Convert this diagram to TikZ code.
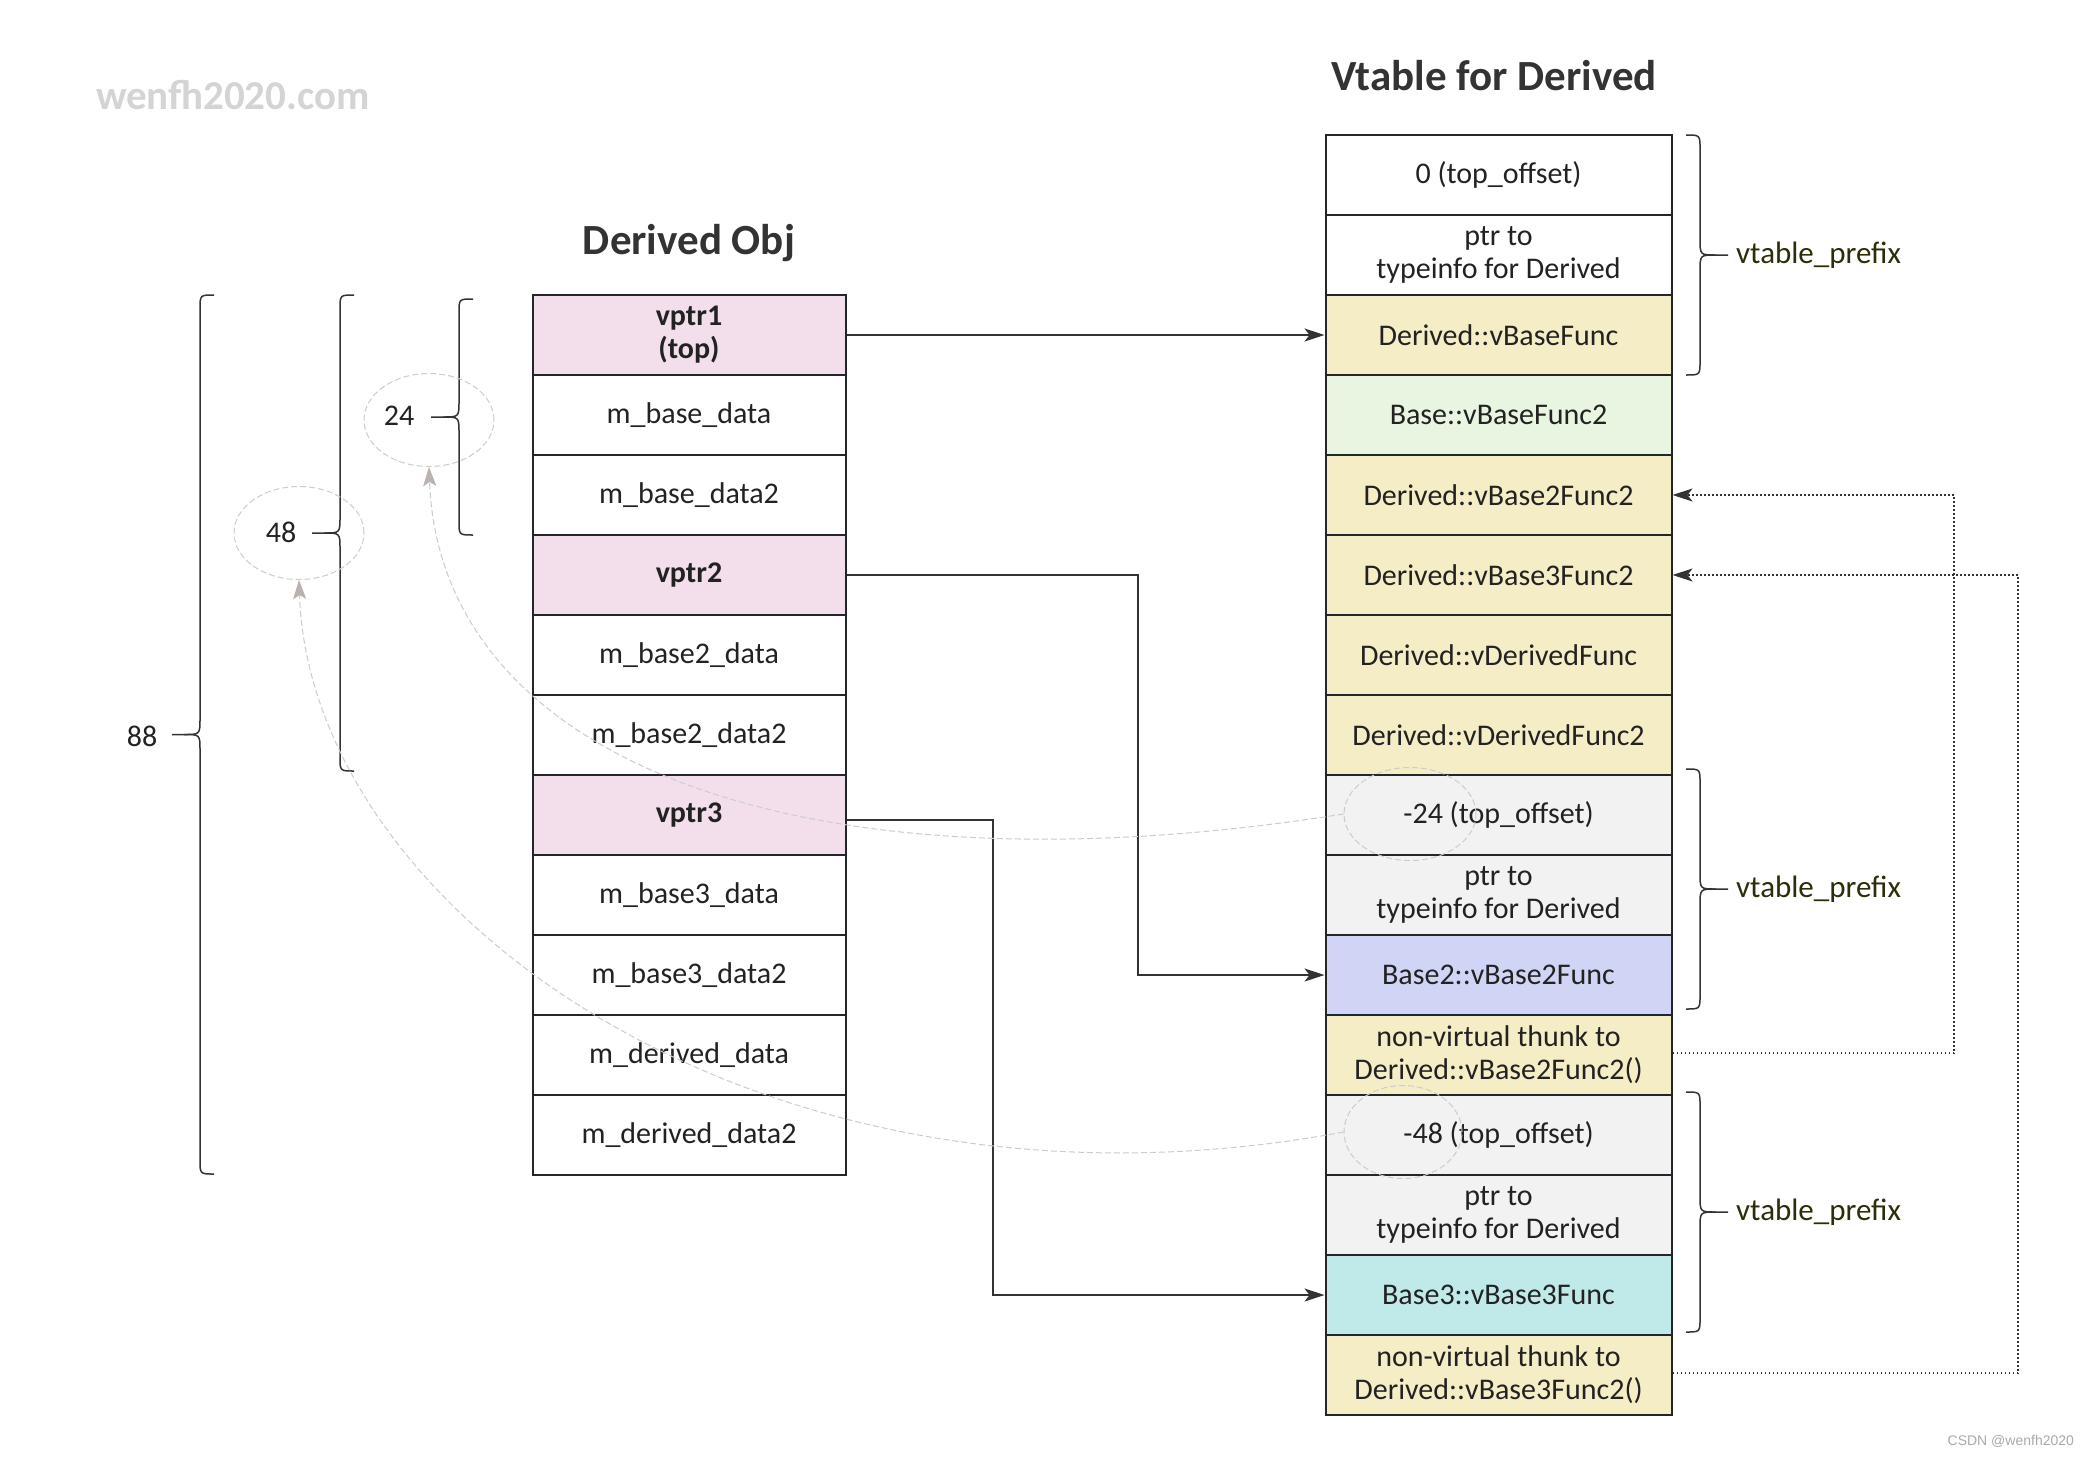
\documentclass[tikz,border=0pt]{standalone}
\usepackage{fontspec}
\setmainfont{Carlito}
\newfontfamily\markfont{Liberation Sans}
\usepackage{tikz}
\usetikzlibrary{arrows.meta,shapes.geometric}

\definecolor{cellline}{RGB}{35,38,43}
\definecolor{textdark}{RGB}{34,34,34}
\definecolor{titledark}{RGB}{51,51,51}
\definecolor{ptrpink}{RGB}{243,223,236}
\definecolor{funcyellow}{RGB}{245,237,198}
\definecolor{funcgreen}{RGB}{232,245,224}
\definecolor{prefixgray}{RGB}{242,242,242}
\definecolor{funcblue}{RGB}{208,213,245}
\definecolor{funccyan}{RGB}{192,233,234}
\definecolor{linedark}{RGB}{51,51,51}
\definecolor{ringgray}{RGB}{204,204,204}
\definecolor{tipgray}{RGB}{185,178,174}
\definecolor{prefixtext}{RGB}{45,45,10}
\definecolor{wmgray}{RGB}{212,212,212}
\definecolor{csdngray}{RGB}{170,170,170}

\tikzset{
  objcell/.style={draw=cellline, line width=1pt, minimum width=156.5pt, minimum height=40pt,
    inner sep=0pt, align=center, text=textdark, font=\fontsize{15}{16.5}\selectfont},
  vtcell/.style={objcell, minimum width=173pt},
  ptr/.style={draw=linedark, line width=0.75pt, -{Stealth[length=10pt,width=6.5pt,inset=2.5pt]}},
  thunkptr/.style={ptr, dash pattern=on 0.8pt off 1.2pt},
  offring/.style={ellipse, draw=ringgray, line width=0.5pt, dash pattern=on 3pt off 1.5pt, inner sep=0pt},
  offlink/.style={draw=ringgray, line width=0.5pt, dash pattern=on 3pt off 1.5pt,
    -{Stealth[length=9.5pt,width=6.5pt,inset=2pt,color=tipgray]}},
  sizelabel/.style={text=textdark, font=\fontsize{15}{16}\selectfont},
  prefixlabel/.style={anchor=west, text=prefixtext, font=\fontsize{15.5}{17}\selectfont},
  titlelabel/.style={anchor=base, text=titledark, font=\fontsize{21.5}{24}\selectfont\bfseries},
  braceline/.style={draw=linedark, line width=0.75pt},
}

% x, top, bottom, direction of the tip (-1 left, 1 right)
\newcommand{\sizebrace}[4]{%
  \pgfmathsetmacro{\bracemid}{(#2+#3)/2}%
  \draw[braceline] ({#1-14*(#4)},#2) .. controls (#1,#2) .. (#1,{#2+14})
    -- (#1,{\bracemid-16}) .. controls (#1,\bracemid) .. ({#1+16*(#4)},\bracemid)
    -- ({#1+28*(#4)},\bracemid);
  \draw[braceline] ({#1+16*(#4)},\bracemid) .. controls (#1,\bracemid) .. (#1,{\bracemid+16})
    -- (#1,{#3-14}) .. controls (#1,#3) .. ({#1-14*(#4)},#3);
}

\begin{document}
\begin{tikzpicture}[x=0.5pt,y=-0.5pt]
\useasboundingbox (0,0) rectangle (2096,1456);
\fill[white] (0,0) rectangle (2096,1456);

\node[anchor=base west, text=wmgray, font=\fontsize{20.5}{22}\selectfont\bfseries](site) at (89,109) {wenfh2020.com};
\node[titlelabel](objtitle) at (689,254) {Derived Obj};
\node[titlelabel](vttitle) at (1494,90) {Vtable for Derived};

% derived object
\node[objcell, fill=ptrpink, font=\fontsize{15}{16.5}\selectfont\bfseries](vptr1) at (689,335) {vptr1\\(top)};
\node[objcell](bdata) at (689,415) {m\_base\_data};
\node[objcell](bdata2) at (689,495) {m\_base\_data2};
\node[objcell, fill=ptrpink, font=\fontsize{15}{16.5}\selectfont\bfseries](vptr2) at (689,575) {vptr2};
\node[objcell](b2data) at (689,655) {m\_base2\_data};
\node[objcell](b2data2) at (689,735) {m\_base2\_data2};
\node[objcell, fill=ptrpink, font=\fontsize{15}{16.5}\selectfont\bfseries](vptr3) at (689,815) {vptr3};
\node[objcell](b3data) at (689,895) {m\_base3\_data};
\node[objcell](b3data2) at (689,975) {m\_base3\_data2};
\node[objcell](ddata) at (689,1055) {m\_derived\_data};
\node[objcell](ddata2) at (689,1135) {m\_derived\_data2};

% vtable
\node[vtcell](top0) at (1498.5,175) {0 (top\_offset)};
\node[vtcell](rtti0) at (1498.5,255) {ptr to\\typeinfo for Derived};
\node[vtcell, fill=funcyellow](dvbf) at (1498.5,335) {Derived::vBaseFunc};
\node[vtcell, fill=funcgreen](bvbf2) at (1498.5,415) {Base::vBaseFunc2};
\node[vtcell, fill=funcyellow](dvb2f2) at (1498.5,495) {Derived::vBase2Func2};
\node[vtcell, fill=funcyellow](dvb3f2) at (1498.5,575) {Derived::vBase3Func2};
\node[vtcell, fill=funcyellow](dvdf) at (1498.5,655) {Derived::vDerivedFunc};
\node[vtcell, fill=funcyellow](dvdf2) at (1498.5,735) {Derived::vDerivedFunc2};
\node[vtcell, fill=prefixgray](top24) at (1498.5,815) {-24 (top\_offset)};
\node[vtcell, fill=prefixgray](rtti24) at (1498.5,895) {ptr to\\typeinfo for Derived};
\node[vtcell, fill=funcblue](b2vb2f) at (1498.5,975) {Base2::vBase2Func};
\node[vtcell, fill=funcyellow](thunk2) at (1498.5,1055) {non-virtual thunk to\\Derived::vBase2Func2()};
\node[vtcell, fill=prefixgray](top48) at (1498.5,1135) {-48 (top\_offset)};
\node[vtcell, fill=prefixgray](rtti48) at (1498.5,1215) {ptr to\\typeinfo for Derived};
\node[vtcell, fill=funccyan](b3vb3f) at (1498.5,1295) {Base3::vBase3Func};
\node[vtcell, fill=funcyellow](thunk3) at (1498.5,1375) {non-virtual thunk to\\Derived::vBase3Func2()};

% sizes
\sizebrace{200}{295}{1174}{-1}
\sizebrace{340}{295}{771}{-1}
\sizebrace{459}{299}{535}{-1}
\node[sizelabel](s88) at (142,736) {88};
\node[sizelabel](s48) at (281,532) {48};
\node[sizelabel](s24) at (399,416) {24};

% prefixes
\sizebrace{1700}{135}{375}{1}
\sizebrace{1700}{769}{1009}{1}
\sizebrace{1700}{1092}{1332}{1}
\node[prefixlabel](pre0) at (1729,255) {vtable\_prefix};
\node[prefixlabel](pre24) at (1729,889) {vtable\_prefix};
\node[prefixlabel](pre48) at (1729,1212) {vtable\_prefix};

% vptr links
\coordinate (turn2) at (1138,575);
\coordinate (turn3) at (993,820);
\draw[ptr] (vptr1.east) -- (dvbf.west);
\draw[ptr] (vptr2.east) -- (turn2) |- (b2vb2f.west);
\draw[ptr] ([yshift=-2.5pt]vptr3.east) -- (turn3) |- (b3vb3f.west);

% thunk links
\coordinate (loop2) at (1954,1053);
\coordinate (loop3) at (2018,1373);
\draw[thunkptr] ([yshift=1pt]thunk2.east) -- (loop2) |- (dvb2f2.east);
\draw[thunkptr] ([yshift=1pt]thunk3.east) -- (loop3) |- (dvb3f2.east);

% offsets
\node[offring, minimum width=65pt, minimum height=46.5pt](c24) at (429,420) {};
\node[offring, minimum width=65pt, minimum height=46.5pt](c48) at (299,533) {};
\node[offring, minimum width=66pt, minimum height=46.5pt](cm24) at (1410,814) {};
\node[offring, minimum width=59pt, minimum height=46.5pt](cm48) at (1403,1132) {};
\draw[offlink] (cm24.west) .. controls (800,900) and (440,760) .. (c24.south);
\draw[offlink] (cm48.west) .. controls (760,1240) and (310,910) .. (c48.south);

\node[anchor=east, text=csdngray, font=\markfont\fontsize{7}{8}\selectfont](csdn) at (2081,1441) {CSDN @wenfh2020};
\end{tikzpicture}
\end{document}
